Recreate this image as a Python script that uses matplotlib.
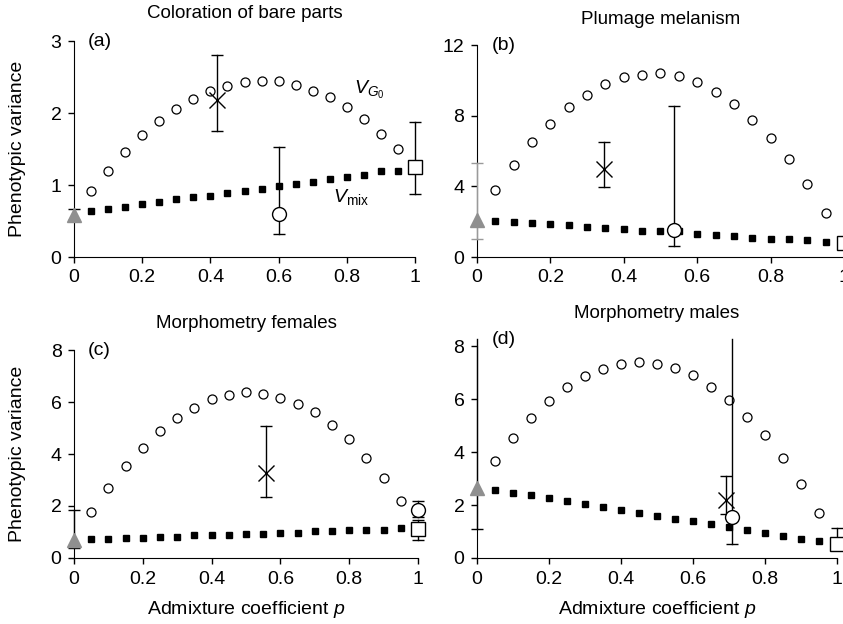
import matplotlib
matplotlib.use("Agg")
import matplotlib.pyplot as plt

plt.rcParams['font.family'] = ['Liberation Sans', 'DejaVu Sans']
plt.rcParams['mathtext.fontset'] = 'custom'
plt.rcParams['mathtext.rm'] = 'Liberation Sans'
plt.rcParams['mathtext.it'] = 'Liberation Sans:italic'

# admixture grid
p = [0.05, 0.1, 0.15, 0.2, 0.25, 0.3, 0.35, 0.4, 0.45, 0.5,
     0.55, 0.6, 0.65, 0.7, 0.75, 0.8, 0.85, 0.9, 0.95]

titles = ["Coloration of bare parts", "Plumage melanism",
          "Morphometry females", "Morphometry males"]
panel_tags = ["(a)", "(b)", "(c)", "(d)"]
yticks = [[0, 1, 2, 3], [0, 4, 8, 12], [0, 2, 4, 6, 8], [0, 2, 4, 6, 8]]
xticks = [0, 0.2, 0.4, 0.6, 0.8, 1]
xticklabels = ["0", "0.2", "0.4", "0.6", "0.8", "1"]

# expected V_G0 (open circles) and V_mix (black squares)
vg0_a = [0.91, 1.20, 1.46, 1.69, 1.89, 2.06, 2.20, 2.30, 2.37, 2.43,
         2.45, 2.44, 2.39, 2.31, 2.22, 2.08, 1.91, 1.71, 1.50]
vmix_a = [0.64, 0.66, 0.69, 0.73, 0.76, 0.80, 0.83, 0.85, 0.89, 0.91,
          0.94, 0.99, 1.01, 1.04, 1.08, 1.11, 1.14, 1.19, 1.20]
vg0_b = [3.81, 5.23, 6.49, 7.53, 8.49, 9.19, 9.77, 10.17, 10.32, 10.40,
         10.25, 9.92, 9.36, 8.66, 7.77, 6.74, 5.55, 4.11, 2.51]
vmix_b = [2.04, 1.98, 1.91, 1.89, 1.79, 1.72, 1.62, 1.57, 1.47, 1.49,
          1.45, 1.32, 1.25, 1.17, 1.08, 1.00, 1.00, 0.94, 0.87]
vg0_c = [1.76, 2.70, 3.53, 4.24, 4.89, 5.39, 5.78, 6.11, 6.28, 6.39,
         6.32, 6.16, 5.94, 5.61, 5.11, 4.57, 3.85, 3.08, 2.20]
vmix_c = [0.73, 0.73, 0.77, 0.77, 0.82, 0.82, 0.87, 0.87, 0.89, 0.92,
          0.92, 0.98, 0.98, 1.04, 1.04, 1.09, 1.09, 1.09, 1.14]
vg0_d = [3.66, 4.52, 5.28, 5.93, 6.46, 6.85, 7.12, 7.34, 7.38, 7.34,
         7.17, 6.90, 6.46, 5.98, 5.33, 4.63, 3.78, 2.81, 1.71]
vmix_d = [2.58, 2.47, 2.36, 2.25, 2.14, 2.04, 1.93, 1.81, 1.71, 1.60,
          1.49, 1.39, 1.27, 1.16, 1.06, 0.94, 0.83, 0.73, 0.63]

# observed values: (p, value, lower, upper)
tri_a, tri_b, tri_c, tri_d = (0, 0.58, 0.52, 0.66), (0, 2.08, 1.0, 5.3), (0, 0.68, 0.40, 1.83), (0, 2.66, 1.08, 8.6)
cross_a, cross_b, cross_c, cross_d = (0.42, 2.18, 1.75, 2.80), (0.346, 4.96, 3.94, 6.49), (0.559, 3.27, 2.35, 5.06), (0.693, 2.18, 1.65, 3.11)
circ_a, circ_b, circ_c, circ_d = (0.60, 0.60, 0.32, 1.53), (0.537, 1.51, 0.60, 8.57), (1.0, 1.84, 1.58, 2.19), (0.709, 1.55, 0.52, 8.6)
sq_a, sq_b, sq_c, sq_d = (1.0, 1.25, 0.87, 1.88), (1.0, 0.80, 0.80, 0.80), (1.0, 1.13, 0.71, 1.45), (1.0, 0.54, 0.30, 1.15)

vg0 = [vg0_a, vg0_b, vg0_c, vg0_d]
vmix = [vmix_a, vmix_b, vmix_c, vmix_d]
tris = [tri_a, tri_b, tri_c, tri_d]
crosses = [cross_a, cross_b, cross_c, cross_d]
circs = [circ_a, circ_b, circ_c, circ_d]
sqs = [sq_a, sq_b, sq_c, sq_d]

W, H = 843, 624
fig = plt.figure(figsize=(W / 100, H / 100), dpi=100)

# axes boxes in pixels: left, right, top, bottom
boxes = [(74, 415, 41, 257), (477, 844, 45, 257), (74, 418, 350, 558), (477, 837, 339.4, 558)]
ylims = [(0, 3), (0, 12), (0, 8), (0, 8.25)]


def errpt(ax, pt, top, ecolor='black', **kw):
    # bar + caps drawn by hand so that bars running off the top get no cap
    x, y, lo, hi = pt
    if hi > lo:
        ax.plot([x, x], [lo, min(hi, top)], color=ecolor, lw=1, clip_on=False, zorder=4)
        caps = [lo] + ([hi] if hi <= top else [])
        ax.plot([x] * len(caps), caps, '_', color=ecolor, ms=9, mew=1, clip_on=False, zorder=4)
    ax.plot([x], [y], clip_on=False, **kw)


for i in range(4):
    l, r, t, b = boxes[i]
    ax = fig.add_axes([l / W, 1 - b / H, (r - l) / W, (b - t) / H])
    ax.set_xlim(0, 1)
    ax.set_ylim(*ylims[i])
    top = ylims[i][1]
    for s in ['top', 'right']:
        ax.spines[s].set_visible(False)
    ax.spines['left'].set_bounds(0, yticks[i][-1])
    ax.set_xticks(xticks)
    ax.set_xticklabels(xticklabels)
    ax.set_yticks(yticks[i])
    ax.tick_params(direction='out', length=4, width=1, labelsize=14, pad=5)

    ax.plot(p, vmix[i], 's', color='black', ms=5, clip_on=False, zorder=3)
    ax.plot(p, vg0[i], 'o', mfc='white', mec='black', mew=0.9, ms=6.5, clip_on=False, zorder=3)

    errpt(ax, tris[i], top, ecolor='#9a9a9a' if i == 1 else 'black',
          marker='^', color='#8f8f8f', ms=10, zorder=4, ls='none')
    errpt(ax, crosses[i], top, marker='x', color='black', ms=11, mew=1, zorder=5, ls='none')
    errpt(ax, circs[i], top, marker='o', mfc='white', mec='black', mew=1, ms=10, zorder=5, ls='none')
    errpt(ax, sqs[i], top, marker='s', mfc='white', mec='black', mew=1, ms=10, zorder=5, ls='none')

    ax.text(0.04, 1.0, panel_tags[i], transform=ax.transAxes, fontsize=14,
            ha='left', va='center')
    fig.text((l + r) / 2 / W, 1 - (t - 27 if i % 2 == 0 else t - 26) / H, titles[i],
             ha='center', va='center', fontsize=13.5)

    if i % 2 == 0:
        fig.text(18 / W, 1 - (t + b) / 2 / H, "Phenotypic variance", rotation=90,
                 ha='center', va='center', fontsize=14)
    if i >= 2:
        fig.text((l + r) / 2 / W, 1 - 610 / H, "Admixture coefficient $p$",
                 ha='center', va='center', fontsize=14)

    if i == 0:
        ax.text(0.82, 2.32, "$V_{G_0}$", fontsize=14, ha='left', va='center')
        ax.text(0.76, 0.83, r"$V_{\mathrm{mix}}$", fontsize=14, ha='left', va='center')

fig.savefig("out.png", dpi=100)
